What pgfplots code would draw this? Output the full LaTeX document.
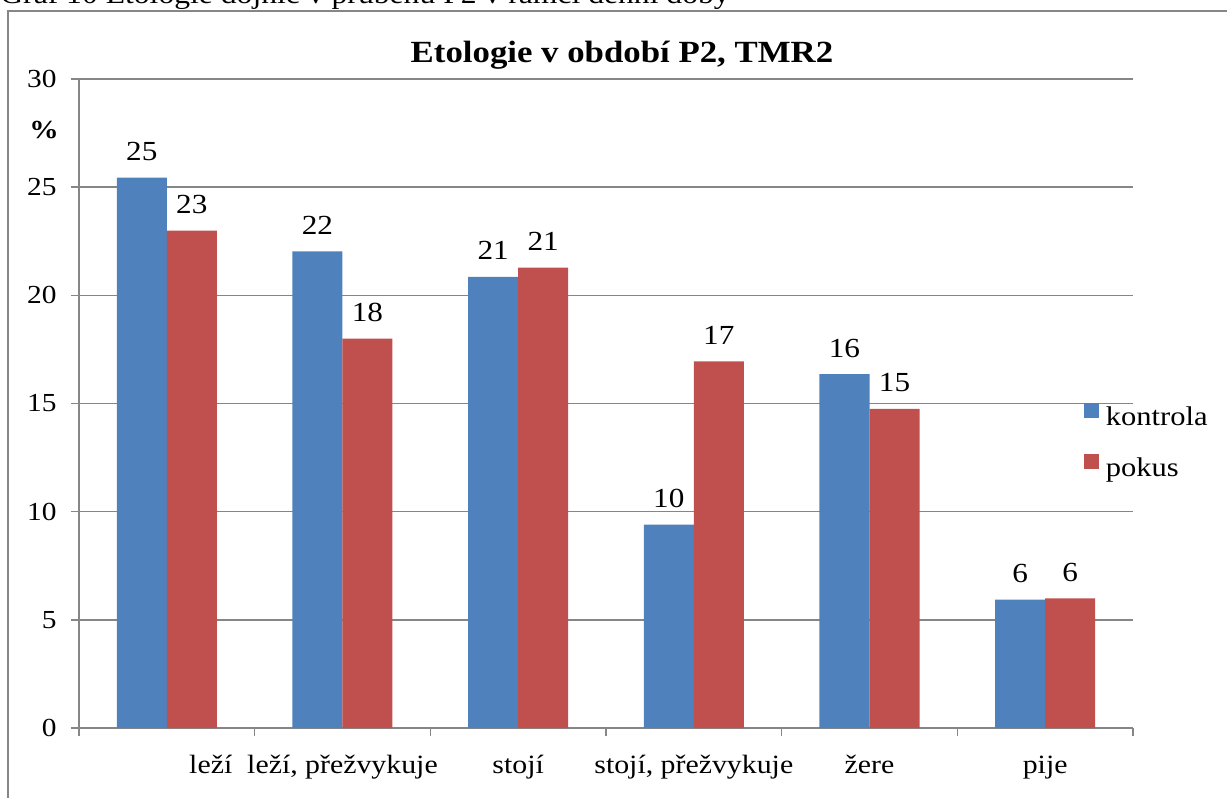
\documentclass[border=0pt]{standalone}
\usepackage{fontspec}
\setmainfont{Liberation Serif}[FakeStretch=1.13]
\usepackage{pgfplots}
\usepackage{pgfplotstable}
\pgfplotsset{compat=1.18}
\definecolor{kblue}{RGB}{79,129,189}
\definecolor{pred}{RGB}{192,80,77}
\definecolor{gridgray}{RGB}{134,134,134}

\pgfplotstableread{
x y lab
0 25.44 25
1 22.03 22
2 20.85 21
3 9.40 10
4 16.36 16
5 5.94 6
}\kontrola
\pgfplotstableread{
x y lab
0 22.99 23
1 18.00 18
2 21.28 21
3 16.95 17
4 14.75 15
5 5.99 6
}\pokus

\begin{document}
\begin{tikzpicture}
\useasboundingbox (0,0) rectangle (613.5pt,-399pt);
\node[anchor=base west, inner sep=0pt, font=\fontsize{14}{16}\selectfont] at (0pt,-1.5pt) {Graf 10 Etologie dojnic v průběhu P2 v rámci denní doby};
\draw[gridgray, line width=0.75pt] (4pt,-420pt) -- (4pt,-5.5pt) -- (640pt,-5.5pt);
\begin{axis}[
  at={(39.5pt,-364pt)}, anchor=south west,
  scale only axis, width=527pt, height=324.5pt,
  xmin=-0.5, xmax=5.5, ymin=0, ymax=30,
  axis x line*=bottom, axis y line*=left,
  xtick={-0.5,0.5,1.5,2.5,3.5,4.5,5.5}, xticklabels={},
  ytick={0,5,...,30},
  tick align=outside, major tick length=4pt,
  tick style={gridgray, line width=0.75pt},
  ymajorgrids, grid style={gridgray, line width=0.75pt},
  axis line style={gridgray, line width=0.75pt},
  extra x ticks={0.25,1,2,3,4,5},
  extra x tick labels={leží,{leží, přežvykuje},stojí,{stojí, přežvykuje},žere,pije},
  extra x tick style={major tick length=0pt, grid=none,
     xticklabel style={anchor=base, inner sep=0pt, yshift=-22.5pt, font=\fontsize{13.2}{14}\selectfont}},
  yticklabel style={font=\fontsize{13}{13}\selectfont, inner sep=0pt, xshift=-7pt},
  /pgf/number format/assume math mode=true,
  ybar=0pt, bar width=25pt,
  nodes near coords, point meta=explicit symbolic,
  nodes near coords style={font=\fontsize{13.8}{14}\selectfont, anchor=base, inner sep=0pt, yshift=8.5pt, text=black},
  legend style={at={(rel axis cs:0.953,0.502)}, anchor=north west, draw=none, fill=none,
     inner sep=0pt, row sep=11pt, column sep=3.5pt,
     nodes={inner sep=0pt, text height=10pt, text depth=3pt, font=\fontsize{13.5}{14}\selectfont}},
  legend cell align=left,
  legend image code/.code={\fill (0pt,0.5pt) rectangle (7.5pt,8pt);},
]
\addplot[fill=kblue, draw=none] table[x=x, y=y, meta=lab]{\kontrola};
\addplot[fill=pred, draw=none] table[x=x, y=y, meta=lab]{\pokus};
\legend{kontrola, pokus}
\end{axis}
\node[anchor=base, inner sep=0pt, font=\bfseries\fontsize{15.4}{16}\selectfont] at (311pt,-31pt) {Etologie v období P2, TMR2};
\node[inner sep=0pt, font=\bfseries\fontsize{13}{13}\selectfont] at (22pt,-65pt) {\%};
\end{tikzpicture}
\end{document}
